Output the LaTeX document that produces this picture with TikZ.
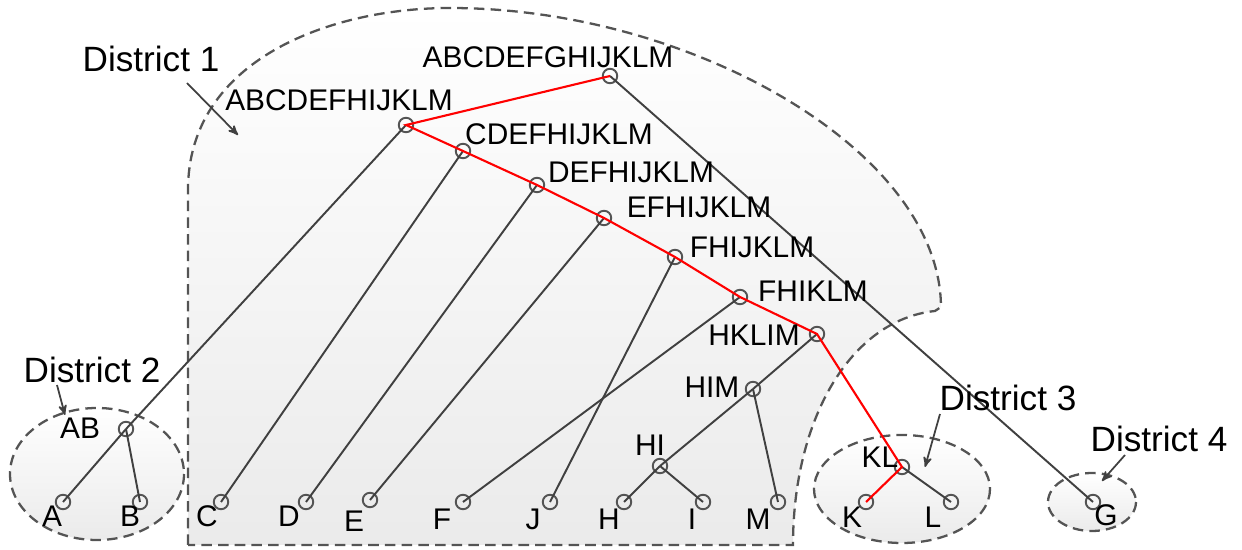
\documentclass[tikz,border=0pt]{standalone}
\usepackage{fontspec}
\setmainfont{Liberation Sans}
\usetikzlibrary{arrows}
\definecolor{mgray}{rgb}{0.25, 0.25, 0.25}
\definecolor{dgray}{rgb}{0.33, 0.33, 0.33}
\tikzset{vtx/.style = {draw=dgray, circle, inner sep = 0, minimum size = 0.29cm, line width = 1.1pt}}
\tikzset{lbl/.style = {font=\fontsize{17}{20}\selectfont, inner sep = 0}}
\tikzset{dist/.style = {font=\fontsize{20}{24}\selectfont, inner sep = 0}}
\tikzset{region/.style = {draw=dgray, dash pattern=on 6pt off 3.5pt, line width = 1.3pt,
                          top color=white, bottom color=black!8}}
\tikzset{edge/.style = {draw=mgray, line width = 1.1pt}}
\tikzset{hot/.style = {draw=red, line width = 1.2pt}}
\tikzset{pointer/.style = {draw=mgray, line width = 1pt, ->, >=stealth'}}

\begin{document}
\begin{tikzpicture}[x=0.02cm, y=-0.02cm]
    \useasboundingbox (0, 0) rectangle (1242, 550);

    % districts
    \path [region] (188, 545) -- (188, 190)
        .. controls (188, 60) and (330, 8) .. (450, 8)
        .. controls (690, 8) and (940, 150) .. (941, 307)
        -- (935, 311)
        .. controls (850, 320) and (793, 420) .. (793, 545) -- cycle;
    \path [region] (97, 474) ellipse [x radius = 87, y radius = 66];
    \path [region] (902, 489) ellipse [x radius = 88, y radius = 54];
    \path [region] (1092, 502) ellipse [x radius = 44, y radius = 29];

    % inner nodes
    \node [vtx] (abcdefghijklm) at (610, 76) {};
    \node [vtx] (abcdefhijklm) at (406, 125) {};
    \node [vtx] (cdefhijklm) at (463, 151) {};
    \node [vtx] (defhijklm) at (537, 185) {};
    \node [vtx] (efhijklm) at (604, 218) {};
    \node [vtx] (fhijklm) at (675, 257) {};
    \node [vtx] (fhiklm) at (740, 297) {};
    \node [vtx] (hklim) at (817, 334) {};
    \node [vtx] (him) at (753, 389) {};
    \node [vtx] (hi) at (660, 466) {};
    \node [vtx] (kl) at (902, 467) {};
    \node [vtx] (ab) at (126, 429) {};

    % leaves
    \node [vtx] (a) at (63, 502) {};
    \node [vtx] (b) at (140, 502) {};
    \node [vtx] (c) at (221, 502) {};
    \node [vtx] (d) at (306, 502) {};
    \node [vtx] (e) at (370, 500) {};
    \node [vtx] (f) at (463, 502) {};
    \node [vtx] (j) at (550, 502) {};
    \node [vtx] (h) at (624, 502) {};
    \node [vtx] (i) at (703, 502) {};
    \node [vtx] (m) at (778, 502) {};
    \node [vtx] (k) at (866, 502) {};
    \node [vtx] (l) at (951, 502) {};
    \node [vtx] (g) at (1093, 502) {};

    \draw [edge] (abcdefhijklm.center) -- (ab.center);
    \draw [edge] (ab.center) -- (a.center);
    \draw [edge] (ab.center) -- (b.center);
    \draw [edge] (cdefhijklm.center) -- (c.center);
    \draw [edge] (defhijklm.center) -- (d.center);
    \draw [edge] (efhijklm.center) -- (e.center);
    \draw [edge] (fhijklm.center) -- (j.center);
    \draw [edge] (fhiklm.center) -- (f.center);
    \draw [edge] (hklim.center) -- (him.center);
    \draw [edge] (him.center) -- (hi.center);
    \draw [edge] (him.center) -- (m.center);
    \draw [edge] (hi.center) -- (h.center);
    \draw [edge] (hi.center) -- (i.center);
    \draw [edge] (kl.center) -- (l.center);
    \draw [edge] (abcdefghijklm.center) -- (g.center);

    \draw [hot] (abcdefghijklm.center) -- (abcdefhijklm.center) -- (cdefhijklm.center)
        -- (defhijklm.center) -- (efhijklm.center) -- (fhijklm.center)
        -- (fhiklm.center) -- (hklim.center) -- (kl.center) -- (k.center);

    \node [lbl] (t-abcdefghijklm) at (548, 57) {ABCDEFGHIJKLM};
    \node [lbl] (t-abcdefhijklm) at (339, 100) {ABCDEFHIJKLM};
    \node [lbl] (t-cdefhijklm) at (559, 134) {CDEFHIJKLM};
    \node [lbl] (t-defhijklm) at (631, 172) {DEFHIJKLM};
    \node [lbl] (t-efhijklm) at (699, 207) {EFHIJKLM};
    \node [lbl] (t-fhijklm) at (752, 247) {FHIJKLM};
    \node [lbl] (t-fhiklm) at (813, 291) {FHIKLM};
    \node [lbl] (t-hklim) at (754, 335) {HKLIM};
    \node [lbl] (t-him) at (712, 387) {HIM};
    \node [lbl] (t-hi) at (650, 445) {HI};
    \node [lbl] (t-kl) at (880, 457) {KL};
    \node [lbl] (t-ab) at (80, 428) {AB};

    \node [lbl] (t-a) at (52, 516) {A};
    \node [lbl] (t-b) at (130, 516) {B};
    \node [lbl] (t-c) at (207, 516) {C};
    \node [lbl] (t-d) at (289, 516) {D};
    \node [lbl] (t-e) at (354, 521) {E};
    \node [lbl] (t-f) at (442, 519) {F};
    \node [lbl] (t-j) at (533, 519) {J};
    \node [lbl] (t-h) at (609, 519) {H};
    \node [lbl] (t-i) at (692, 519) {I};
    \node [lbl] (t-m) at (758, 519) {M};
    \node [lbl] (t-k) at (852, 517) {K};
    \node [lbl] (t-l) at (933, 517) {L};
    \node [lbl] (t-g) at (1106, 515) {G};

    % district names
    \node [dist] (d1) at (151, 59) {District 1};
    \node [dist] (d2) at (92, 370) {District 2};
    \node [dist] (d3) at (1008, 398) {District 3};
    \node [dist] (d4) at (1159, 439) {District 4};
    \coordinate (d1from) at (187, 83);
    \coordinate (d1to) at (238, 135);
    \coordinate (d2from) at (57, 385);
    \coordinate (d2to) at (65, 415);
    \coordinate (d3from) at (940, 414);
    \coordinate (d3to) at (925, 467);
    \coordinate (d4from) at (1125, 455);
    \coordinate (d4to) at (1102, 481);
    \draw [pointer] (d1from) -- (d1to);
    \draw [pointer] (d2from) -- (d2to);
    \draw [pointer] (d3from) -- (d3to);
    \draw [pointer] (d4from) -- (d4to);
  \end{tikzpicture}
\end{document}
